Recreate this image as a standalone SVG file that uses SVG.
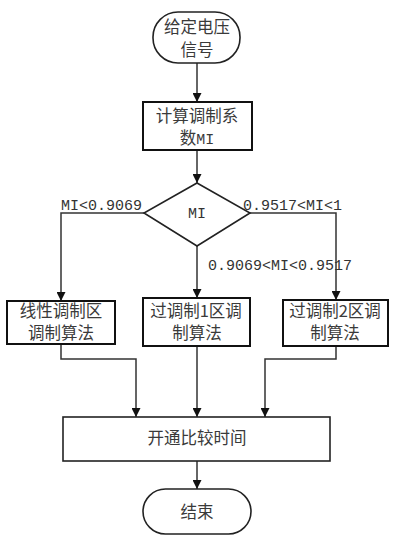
<svg xmlns="http://www.w3.org/2000/svg" width="404" height="547" viewBox="0 0 404 547">
<defs>
<marker id="arr" viewBox="0 0 10 10" refX="10" refY="5" markerWidth="9" markerHeight="9" markerUnits="userSpaceOnUse" orient="auto">
<path d="M0,0 L10,5 L0,10 Z" fill="#111"/>
</marker>
<style>
.box{fill:#fff;stroke:#111;stroke-width:2}
.box2{fill:#fff;stroke:#222;stroke-width:1.6}
.t{font-family:"Noto Sans CJK SC","Noto Sans CJK JP",sans-serif;font-size:16.5px;fill:#3a3a3a;text-anchor:middle}
.m{font-family:"Liberation Mono",monospace;font-size:15px;fill:#333}
.c{fill:none;stroke:#333;stroke-width:1.5}
</style>
</defs>
<rect width="404" height="547" fill="#fff"/>
<g id="connectors">
<path class="c" d="M197,63 V102" marker-end="url(#arr)"/>
<path class="c" d="M197,150 V183" marker-end="url(#arr)"/>
<path class="c" d="M144,213 H61 V301" marker-end="url(#arr)"/>
<path class="c" d="M197,246 V298" marker-end="url(#arr)"/>
<path class="c" d="M250,213 H336 V300" marker-end="url(#arr)"/>
<path class="c" d="M61,344 V359 H136 V417" marker-end="url(#arr)"/>
<path class="c" d="M197,346 V417" marker-end="url(#arr)"/>
<path class="c" d="M336,346 V359 H265 V417" marker-end="url(#arr)"/>
<path class="c" d="M197,461 V489" marker-end="url(#arr)"/>
<text class="m" x="61" y="210">MI&lt;0.9069</text>
<text class="m" x="243" y="210">0.9517&lt;MI&lt;1</text>
<text class="m" x="208" y="270">0.9069&lt;MI&lt;0.9517</text>
</g>
<g id="start">
<rect class="box2" x="153" y="12" width="87" height="51" rx="25" ry="25"/>
<text class="t" x="197" y="33">给定电压</text>
<text class="t" x="197" y="56">信号</text>
</g>
<g id="calc">
<rect class="box" x="143" y="102" width="109" height="48"/>
<text class="t" x="197" y="122">计算调制系</text>
<text class="t" x="197" y="144">数<tspan style="font-family:'Liberation Mono',monospace;font-size:15px">MI</tspan></text>
</g>
<g id="decision">
<path class="box2" d="M197,183 L250,213 L197,246 L144,213 Z"/>
<text class="m" x="197" y="218" text-anchor="middle">MI</text>
</g>
<g id="linear">
<rect class="box" x="7" y="301" width="108" height="43"/>
<text class="t" x="61" y="317">线性调制区</text>
<text class="t" x="61" y="339">调制算法</text>
</g>
<g id="over1">
<rect class="box" x="143" y="298" width="107" height="48"/>
<text class="t" x="196" y="317">过调制1区调</text>
<text class="t" x="197" y="339">制算法</text>
</g>
<g id="over2">
<rect class="box" x="283" y="300" width="105" height="46"/>
<text class="t" x="335" y="317">过调制2区调</text>
<text class="t" x="335" y="339">制算法</text>
</g>
<g id="compare">
<rect class="box2" x="63" y="417" width="267" height="44"/>
<text class="t" x="197" y="444">开通比较时间</text>
</g>
<g id="end">
<rect class="box2" x="143" y="489" width="108" height="45" rx="22.5" ry="22.5"/>
<text class="t" x="197" y="518">结束</text>
</g>
</svg>
